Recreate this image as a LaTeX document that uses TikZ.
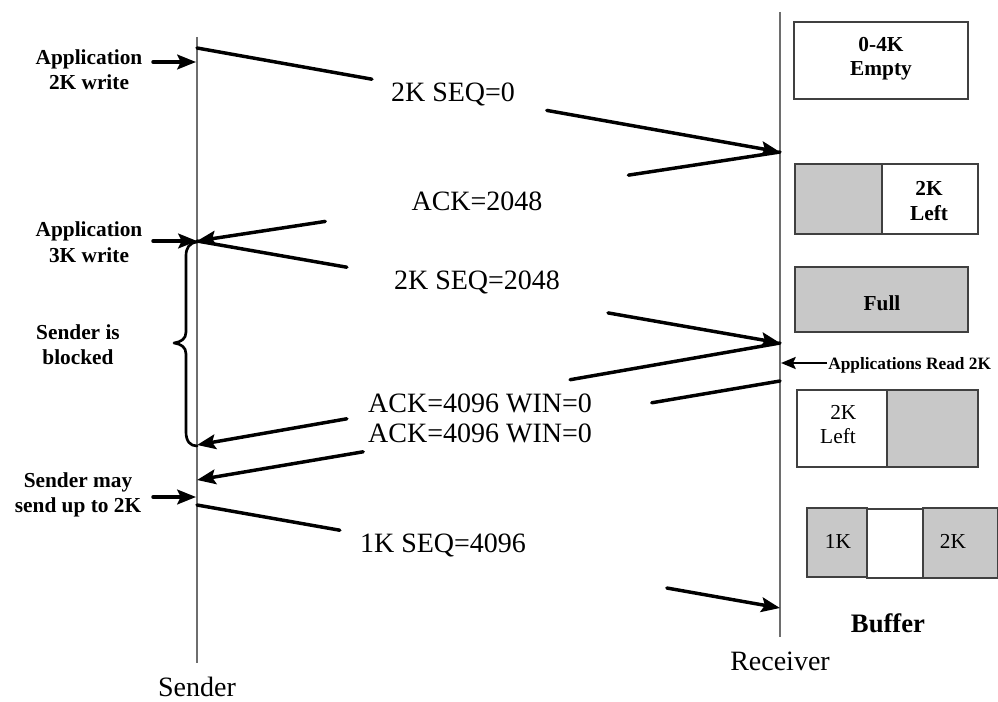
\documentclass[tikz,border=0pt]{standalone}
\usepackage{fontspec}
\setmainfont{Liberation Serif}
\usetikzlibrary{arrows.meta,calc}
\definecolor{bufgray}{RGB}{200,200,200}
\definecolor{lifegray}{RGB}{110,110,110}
\tikzset{
  lifeline/.style={draw=lifegray, line width=1.1pt},
  msgline/.style={line width=2.6pt, line cap=round},
  msg/.style={msgline, -{Stealth[length=14pt,width=11pt,inset=2.5pt]}},
  bufbox/.style={draw=black!75, line width=1.1pt},
  bigtxt/.style={font=\fontsize{21}{22.5}\selectfont, anchor=base, align=center, inner sep=0pt},
  sidetxt/.style={font=\bfseries\fontsize{16}{18.75}\selectfont, anchor=base, align=center, inner sep=0pt},
  boxtxt/.style={font=\fontsize{16}{18}\selectfont, anchor=base, align=center, inner sep=0pt},
  bracepath/.style={line width=2pt, line cap=round, line join=round},
}
\begin{document}
\begin{tikzpicture}[x=0.75pt,y=-0.75pt]
\useasboundingbox (0,0) rectangle (998,702);
% lifelines
\coordinate (stop) at (197,37);
\coordinate (sbot) at (197,663);
\coordinate (rtop) at (780,12);
\coordinate (rbot) at (780,637);
\draw[lifeline] (stop) -- (sbot);
\draw[lifeline] (rtop) -- (rbot);
\node[bigtxt] (sender) at (197,696) {Sender};
\node[bigtxt] (receiver) at (780,670) {Receiver};

% message end points
\coordinate (s1) at (197,48);
\coordinate (r1) at (780,152);
\coordinate (s2) at (197,241);
\coordinate (r2) at (780,343);
\coordinate (s3) at (197,445);
\coordinate (r3) at (780,381);
\coordinate (s4) at (197,480);
\coordinate (s5) at (197,505);
\coordinate (r4) at (780,608);

% 2K SEQ=0
\draw[msgline] (s1) -- ($(s1)!0.30!(r1)$);
\draw[msg] ($(s1)!0.60!(r1)$) -- (r1);
\node[bigtxt] (m1) at (453,102) {2K SEQ=0};
% ACK=2048
\draw[msgline] (r1) -- ($(r1)!0.26!(s2)$);
\draw[msg] ($(r1)!0.78!(s2)$) -- (s2);
\node[bigtxt] (m2) at (477,210) {ACK=2048};
% 2K SEQ=2048
\draw[msgline] (s2) -- ($(s2)!0.257!(r2)$);
\draw[msg] ($(s2)!0.705!(r2)$) -- (r2);
\node[bigtxt] (m3) at (477,289) {2K SEQ=2048};
% ACK=4096 WIN=0 (two)
\draw[msgline] (r2) -- ($(r2)!0.36!(s3)$);
\draw[msg] ($(r2)!0.743!(s3)$) -- (s3);
\draw[msgline] (r3) -- ($(r3)!0.22!(s4)$);
\draw[msg] ($(r3)!0.715!(s4)$) -- (s4);
\node[bigtxt] (m4) at (480,442) {ACK=4096 WIN=0\\ACK=4096 WIN=0};
% 1K SEQ=4096
\draw[msgline] (s5) -- ($(s5)!0.245!(r4)$);
\draw[msg] ($(s5)!0.806!(r4)$) -- (r4);
\node[bigtxt] (m6) at (443,552) {1K SEQ=4096};

% sender side labels
\node[sidetxt] (app1) at (89,90) {Application\\2K write};
\coordinate (a1) at (153,62);
\coordinate (a1e) at (196,62);
\draw[msg] (a1) -- (a1e);
\node[sidetxt] (app2) at (89,262) {Application\\3K write};
\coordinate (a2) at (153,241);
\draw[msg] (a2) -- (s2);
\node[sidetxt] (blk) at (78,364) {Sender is\\blocked};
\node[sidetxt] (may) at (78,512) {Sender may\\send up to 2K};
\coordinate (a3) at (153,497);
\coordinate (a3e) at (196,497);
\draw[msg] (a3) -- (a3e);
% brace
\draw[bracepath] (197,242) .. controls (189,243) and (186,248) .. (186,256) -- (186,332)
  .. controls (186,339) and (181,342) .. (174,343)
  .. controls (181,344) and (186,347) .. (186,354) -- (186,432)
  .. controls (186,441) and (190,446) .. (197,446);

% buffers
\draw[bufbox] (794,22) rectangle (968,99);
\node[boxtxt, font=\bfseries\fontsize{16}{18}\selectfont] (b1) at (881,76) {0-4K\\Empty};

\filldraw[bufbox, fill=bufgray] (795,164) rectangle (882,234);
\draw[bufbox] (882,164) rectangle (978,234);
\node[boxtxt, font=\bfseries\fontsize{16}{18}\selectfont] (b2) at (929,220) {2K\\Left};

\filldraw[bufbox, fill=bufgray] (795,267) rectangle (968,332);
\node[boxtxt, font=\bfseries\fontsize{16}{18}\selectfont] (b3) at (882,310) {Full};

\coordinate (rd) at (827,363);
\coordinate (rde) at (781,363);
\draw[line width=1.8pt, -{Stealth[length=11pt,width=9pt,inset=2pt]}] (rd) -- (rde);
\node[font=\bfseries\fontsize{13}{15}\selectfont, anchor=base west, inner sep=0pt] (rdtxt) at (828,369) {Applications Read 2K};

\draw[bufbox] (797,390) rectangle (887,467);
\filldraw[bufbox, fill=bufgray] (887,390) rectangle (978,467);
\node[boxtxt] (b4) at (838,443) {\hspace*{8pt}2K\\Left};

\filldraw[bufbox, fill=bufgray] (807,508) rectangle (867,577);
\draw[bufbox] (867,509) rectangle (923,578);
\filldraw[bufbox, fill=bufgray] (923,508) rectangle (998,578);
\node[boxtxt] (b5a) at (838,548) {1K};
\node[boxtxt] (b5b) at (953,548) {2K};

\node[font=\bfseries\fontsize{20}{22}\selectfont, anchor=base, inner sep=0pt] (buf) at (888,632) {Buffer};
\end{tikzpicture}
\end{document}
